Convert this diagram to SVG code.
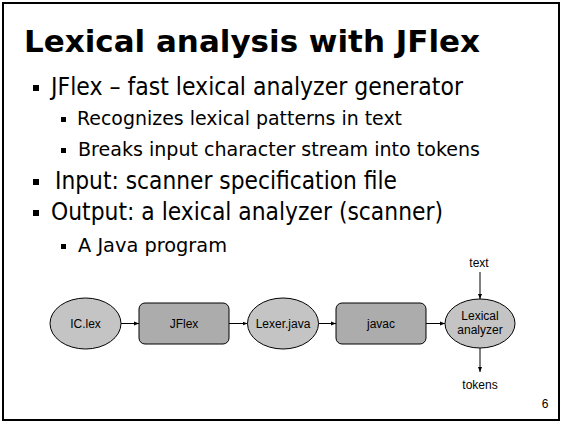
<svg xmlns="http://www.w3.org/2000/svg" width="563" height="424" viewBox="0 0 563 424">
<defs>
<style>
.title{font-family:"DejaVu Sans",sans-serif;font-weight:bold;font-size:31px;fill:#000}
.l1{font-family:"DejaVu Sans",sans-serif;font-size:25px;fill:#000}
.l2{font-family:"DejaVu Sans",sans-serif;font-size:20px;fill:#000}
.lbl{font-family:"Liberation Sans",Arial,sans-serif;font-size:12px;fill:#000;text-anchor:middle}
.ell{fill:#c4c4c4;stroke:#000;stroke-width:1}
.box{fill:#acacac;stroke:#000;stroke-width:1}
.conn{stroke:#000;stroke-width:1;fill:none;marker-end:url(#ah)}
</style>
<marker id="ah" viewBox="0 0 10 10" refX="10" refY="5" markerWidth="5" markerHeight="5" orient="auto" markerUnits="userSpaceOnUse">
<path d="M0,1 L10,5 L0,9 z" fill="#000"/>
</marker>
</defs>
<rect x="0" y="0" width="563" height="424" fill="#fff"/>
<rect x="3" y="3" width="556" height="417" fill="#fff" stroke="#000" stroke-width="2"/>
<text class="title" x="24" y="52" textLength="456" lengthAdjust="spacingAndGlyphs">Lexical analysis with JFlex</text>
<g id="bullets">
<rect x="33" y="85" width="6" height="6"/>
<rect x="61" y="117" width="5" height="5"/>
<rect x="61" y="148" width="5" height="5"/>
<rect x="33" y="179" width="6" height="6"/>
<rect x="33" y="210" width="6" height="6"/>
<rect x="61" y="244" width="5" height="5"/>
</g>
<text class="l1" x="51" y="95" textLength="412" lengthAdjust="spacingAndGlyphs">JFlex – fast lexical analyzer generator</text>
<text class="l2" x="77" y="125" textLength="325" lengthAdjust="spacingAndGlyphs">Recognizes lexical patterns in text</text>
<text class="l2" x="78" y="156" textLength="402" lengthAdjust="spacingAndGlyphs">Breaks input character stream into tokens</text>
<text class="l1" x="55" y="189" textLength="342" lengthAdjust="spacingAndGlyphs">Input: scanner specification file</text>
<text class="l1" x="51" y="220" textLength="392" lengthAdjust="spacingAndGlyphs">Output: a lexical analyzer (scanner)</text>
<text class="l2" x="78" y="252" textLength="149" lengthAdjust="spacingAndGlyphs">A Java program</text>
<g id="connectors">
<line class="conn" x1="121" y1="323.5" x2="139" y2="323.5"/>
<line class="conn" x1="229" y1="323.5" x2="247.5" y2="323.5"/>
<line class="conn" x1="318.5" y1="323.5" x2="336" y2="323.5"/>
<line class="conn" x1="426" y1="323.5" x2="445" y2="323.5"/>
<line class="conn" x1="480" y1="272" x2="480" y2="299"/>
<line class="conn" x1="480" y1="348" x2="480" y2="372"/>
</g>
<g id="iclex">
<ellipse class="ell" cx="85.5" cy="323.5" rx="35.5" ry="25.5"/>
<text class="lbl" x="85.5" y="328">IC.lex</text>
</g>
<g id="jflex">
<rect class="box" x="139" y="303" width="90" height="41" rx="6" ry="6"/>
<text class="lbl" x="184" y="328">JFlex</text>
</g>
<g id="lexerjava">
<ellipse class="ell" cx="283" cy="323.5" rx="35.5" ry="25.5"/>
<text class="lbl" x="283" y="328">Lexer.java</text>
</g>
<g id="javac">
<rect class="box" x="336" y="303" width="90" height="41" rx="6" ry="6"/>
<text class="lbl" x="381" y="328">javac</text>
</g>
<g id="lexical">
<ellipse class="ell" cx="480" cy="323.5" rx="35" ry="24.5"/>
<text class="lbl" x="480" y="320">Lexical</text>
<text class="lbl" x="480" y="334">analyzer</text>
</g>
<text class="lbl" x="479" y="267">text</text>
<text class="lbl" x="480" y="389">tokens</text>
<text class="lbl" x="545" y="408">6</text>
</svg>
